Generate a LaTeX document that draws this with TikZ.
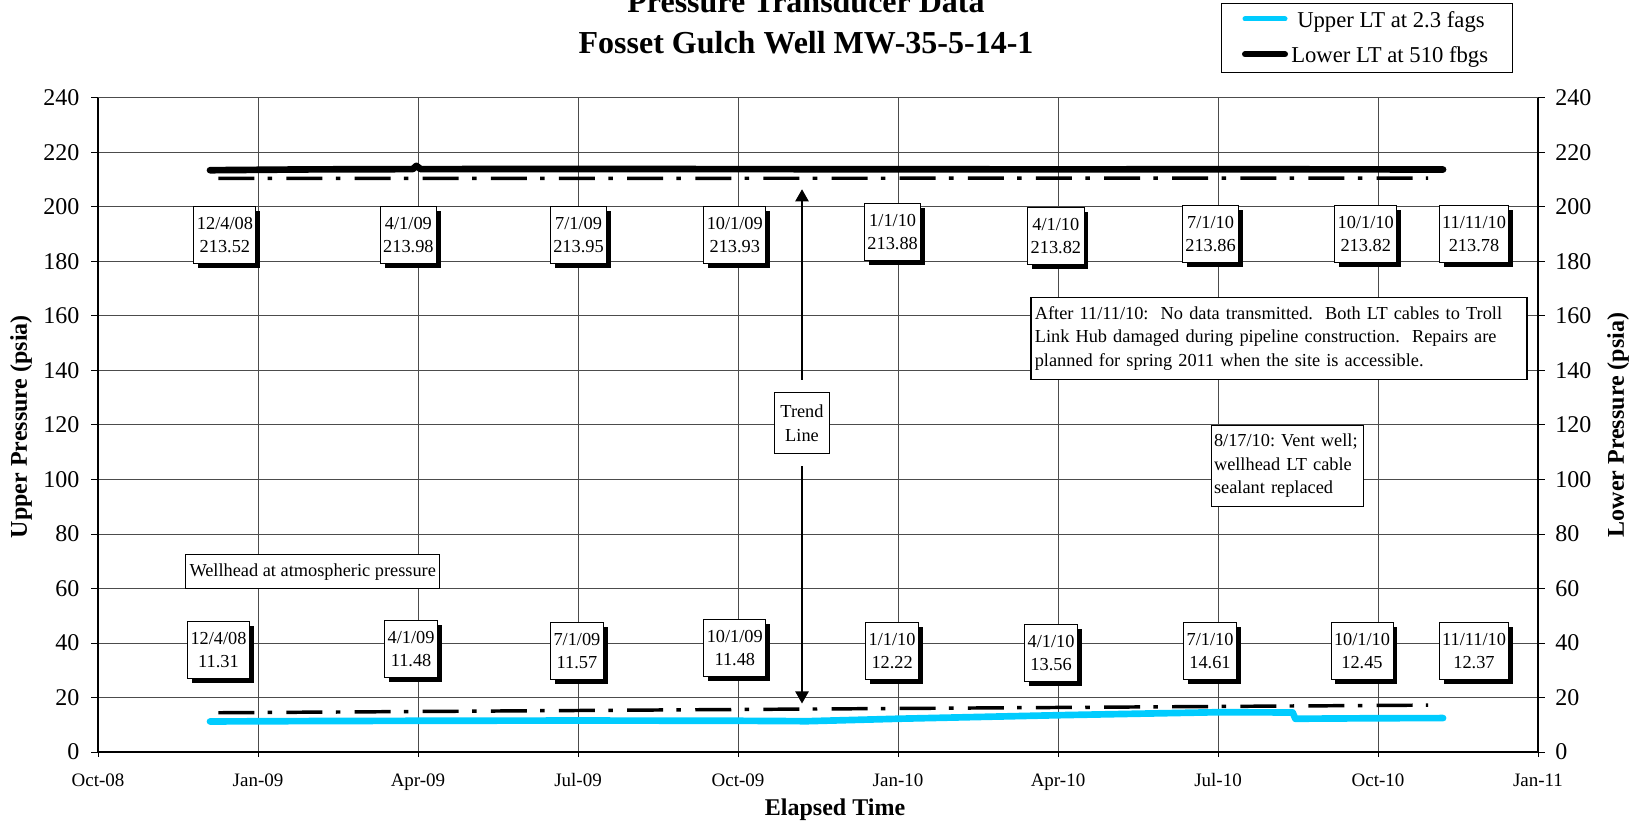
\documentclass[tikz,border=0pt]{standalone}
\usepackage{fontspec}
\setmainfont{Liberation Serif}
\usetikzlibrary{arrows.meta,shadows}
\definecolor{upperblue}{RGB}{0,204,255}
\frenchspacing
\tikzset{
  gridline/.style={black!70,line width=0.75pt},
  ticklbl/.style={inner sep=0pt,font=\fontsize{18}{21}\selectfont},
  monthlbl/.style={inner sep=0pt,anchor=base,font=\fontsize{14.25}{17}\selectfont},
  axistitle/.style={inner sep=0pt,font=\bfseries\fontsize{18}{21}\selectfont},
  datebox/.style={draw,fill=white,line width=0.75pt,align=center,
    font=\fontsize{13.75}{17.25}\selectfont,inner xsep=2.25pt,inner ysep=0pt,
    minimum height=42.75pt,
    general shadow={fill=black,shadow xshift=3.3pt,shadow yshift=-3.3pt}},
  notebox/.style={draw,fill=white,line width=0.75pt,align=left,
    font=\fontsize{13.75}{17.6}\selectfont,inner xsep=3pt,inner ysep=0pt},
  trendline/.style={line width=2.6pt,dash pattern=on 27pt off 10pt on 3.4pt off 10.7pt},
  upperLT/.style={upperblue,line width=5pt,line cap=round,line join=round},
  lowerLT/.style={black,line width=5pt,line cap=round,line join=round},
  trendarrow/.style={line width=0.9pt,-{Triangle[length=9pt,width=10pt]},shorten <=9pt}
}
\begin{document}
\begin{tikzpicture}[x=0.75pt,y=0.75pt]
\useasboundingbox (0,0) rectangle (1642,822);
% title
\node[anchor=base,font=\bfseries\fontsize{24}{28}\selectfont] (title1) at (806,809) {Pressure Transducer Data};
\node[anchor=base,font=\bfseries\fontsize{24}{28}\selectfont] (title2) at (806,768) {Fosset Gulch Well MW-35-5-14-1};
% legend
\node[draw,line width=0.75pt,minimum width=218.25pt,minimum height=51.75pt,inner sep=0pt] (legend) at (1366.5,783.5) {};
\draw[upperLT,line width=3.75pt] (1245,803) -- (1285,803);
\draw[lowerLT,line width=4.5pt] (1245,767.7) -- (1285,767.7);
\node[anchor=base west,inner sep=0pt,font=\fontsize{17}{20}\selectfont] (keyup) at (1297,794) {Upper LT at 2.3 fags};
\node[anchor=base west,inner sep=0pt,font=\fontsize{17}{20}\selectfont] (keylo) at (1291,759) {Lower LT at 510 fbgs};
% chart: x in months from Oct-08, y in psia
\begin{scope}[xshift=73.5pt,yshift=52.5pt,x=40pt,y=2.04375pt]
\foreach \m in {3,6,...,24} \draw[gridline] (\m,0) -- (\m,240);
\foreach \p in {20,40,...,240} \draw[gridline] (0,\p) -- (27,\p);
\foreach \m in {0,3,...,27} \draw[line width=0.75pt] (\m,0) -- ++(0,-1.8);
\foreach \p in {0,20,...,240}{
  \draw[line width=0.75pt] (0,\p) -- ++(-0.13,0);
  \draw[line width=0.75pt] (27,\p) -- ++(0.13,0);
  \node[ticklbl,anchor=east,xshift=-13.8pt] (yl\p) at (0,\p) {\p};
  \node[ticklbl,anchor=west,xshift=12.75pt] (yr\p) at (27,\p) {\p};
}
\draw[line width=1.1pt] (0,240) -- (0,0);
\draw[line width=1.1pt] (27,240) -- (27,0);
\draw[line width=1.4pt] (0,0) -- (27,0);
\foreach \m/\t in {0/Oct-08,3/Jan-09,6/Apr-09,9/Jul-09,12/Oct-09,15/Jan-10,18/Apr-10,21/Jul-10,24/Oct-10,27/Jan-11}
  \node[monthlbl,yshift=-25.9pt] (xl\m) at (\m,0) {\t};
\node[axistitle,anchor=base,yshift=-47.5pt] (xtitle) at (13.82,0) {Elapsed Time};
\node[axistitle,rotate=90] (ytitleL) at (-1.444,119.4) {Upper Pressure (psia)};
\node[axistitle,rotate=90] (ytitleR) at (28.5,120) {Lower Pressure (psia)};
% trend lines
\draw[trendline] (2.256,210.5) -- (24.94,210.6);
\draw[trendline] (2.256,14.4) -- (24.94,17.2);
% data
\draw[lowerLT] plot coordinates {(2.1,213.5) (4,213.8) (5.9,213.9) (5.97,215.1) (6.05,213.9) (9,213.95) (12,213.9) (15,213.85) (18,213.8) (21,213.85) (24,213.8) (25.22,213.75)};
\draw[upperLT] plot coordinates {(2.1,11.2) (4,11.35) (6,11.45) (9,11.55) (12,11.45) (13.3,11.3) (15,12.2) (18,13.5) (21,14.6) (22.4,14.5) (22.45,12.2) (24,12.4) (25.22,12.45)};
% value boxes
\foreach \m/\p/\dt/\val [count=\i] in {2.38/189.6/{12/4/08}/213.52, 5.82/189.8/{4/1/09}/213.98,
  9.01/189.7/{7/1/09}/213.95, 11.94/189.6/{10/1/09}/213.93, 14.9/190.9/{1/1/10}/213.88,
  17.96/189.4/{4/1/10}/213.82, 20.86/190.2/{7/1/10}/213.86, 23.77/190.2/{10/1/10}/213.82,
  25.8/190.2/{11/11/10}/213.78}
  \node[datebox] (deep\i) at (\m,\p) {\dt\\\val};
\foreach \m/\p/\dt/\val [count=\i] in {2.26/37.5/{12/4/08}/11.31, 5.87/37.7/{4/1/09}/11.48,
  8.98/36.95/{7/1/09}/11.57, 11.94/38/{10/1/09}/11.48, 14.89/37.1/{1/1/10}/12.22,
  17.87/36.4/{4/1/10}/13.56, 20.85/37.1/{7/1/10}/14.61, 23.7/37.2/{10/1/10}/12.45,
  25.8/37.1/{11/11/10}/12.37}
  \node[datebox] (shallow\i) at (\m,\p) {\dt\\\val};
% notes
\node[notebox,minimum height=25pt] (wellhead) at (4.026,66.2) {Wellhead at atmospheric pressure};
\node[notebox,line width=1.1pt,text width=366pt,minimum height=61.5pt] (cable) at (22.14,151.8)
  {After 11/11/10:\ \ No data transmitted.\ \ Both LT cables to Troll\\
   Link Hub damaged during pipeline construction.\ \ Repairs are\\
   planned for spring 2011 when the site is accessible.};
\node[notebox,inner xsep=2pt,text width=110pt,minimum height=60.2pt] (vent) at (22.3,105)
  {8/17/10: Vent well;\\ wellhead LT cable\\ sealant replaced};
\node[notebox,align=center,inner xsep=4.5pt,minimum height=46.3pt] (trend) at (13.2,120.7) {Trend\\Line};
\coordinate (hitip) at (13.2,206.5);
\coordinate (lotip) at (13.2,17.8);
\draw[trendarrow] (trend.north) -- (hitip);
\draw[trendarrow] (trend.south) -- (lotip);
\end{scope}
\end{tikzpicture}
\end{document}
